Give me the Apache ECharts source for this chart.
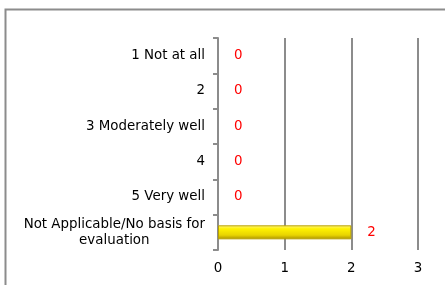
<!DOCTYPE html>
<html>
<head>
<meta charset="utf-8">
<script src="https://cdn.jsdelivr.net/npm/echarts@6/dist/echarts.min.js"></script>
<style>
  html, body { margin: 0; padding: 0; background: #fff; }
  #chart { width: 445px; height: 285px; }
</style>
</head>
<body>
<div id="chart"></div>
<script>
var categories = ['1 Not at all', '2', '3 Moderately well', '4', '5 Very well', 'Not Applicable/No basis for\nevaluation'];
var counts = [0, 0, 0, 0, 0, 2];
var xTicks = [0, 1, 2, 3];

var chart = echarts.init(document.getElementById('chart'));

// zero bars should not leave a stroke behind
var barData = counts.map(function (v) {
  return { value: v, itemStyle: { borderWidth: v === 0 ? 0 : 1 } };
});

var option = {
  animation: false,
  textStyle: { fontFamily: 'DejaVu Sans' },
  graphic: [
    {
      type: 'polyline',
      shape: { points: [[5.5, 290], [5.5, 9.5], [450, 9.5]] },
      style: { stroke: '#8c8c8c', lineWidth: 2, fill: null }
    }
  ],
  grid: { left: 218, right: 27, top: 38, bottom: 35 },
  xAxis: {
    type: 'value',
    min: xTicks[0],
    max: xTicks[xTicks.length - 1],
    interval: 1,
    axisLine: { show: false },
    axisTick: { show: false },
    axisLabel: { color: '#000', fontSize: 13.4, margin: 12 },
    splitLine: { show: true, lineStyle: { color: '#8c8c8c', width: 2 } }
  },
  yAxis: {
    type: 'category',
    inverse: true,
    data: categories,
    axisLine: { lineStyle: { color: '#8c8c8c', width: 2 } },
    axisTick: { show: true, length: 5, lineStyle: { color: '#8c8c8c', width: 2 } },
    axisLabel: {
      color: '#000',
      fontSize: 13.4,
      margin: 13,
      align: 'right',
      formatter: function (val) {
        return val.split('\n').map(function (s) { return '{c|' + s + '}'; }).join('\n');
      },
      rich: {
        c: { align: 'center', fontSize: 13.4, lineHeight: 16, color: '#000' }
      }
    }
  },
  series: [
    {
      type: 'bar',
      data: barData,
      barWidth: 14,
      itemStyle: {
        color: {
          type: 'linear', x: 0, y: 0, x2: 0, y2: 1,
          colorStops: [
            { offset: 0, color: '#fff68a' },
            { offset: 0.25, color: '#fff200' },
            { offset: 0.7, color: '#e8d400' },
            { offset: 1, color: '#a89000' }
          ]
        },
        borderColor: '#b8a000'
      },
      label: {
        show: true,
        position: 'right',
        distance: 16,
        color: '#ff0000',
        fontSize: 13.4
      }
    }
  ]
};

chart.setOption(option);
</script>
</body>
</html>
